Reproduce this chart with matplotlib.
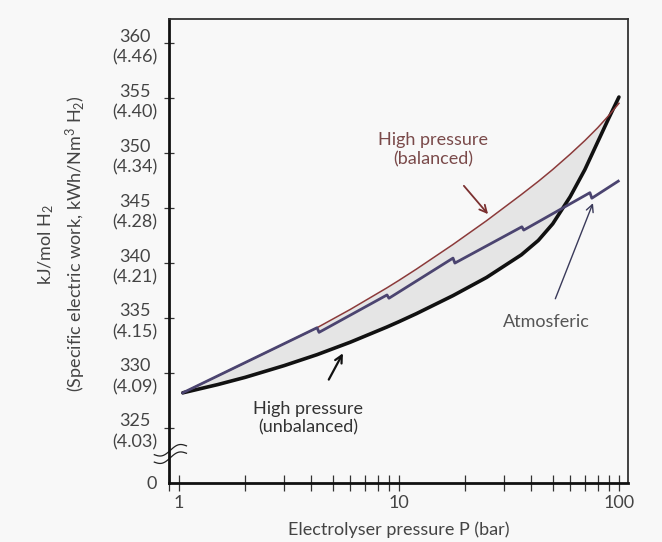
import matplotlib
matplotlib.use("Agg")
import matplotlib.pyplot as plt
import numpy as np

plt.rcParams['font.family'] = ['Lato', 'DejaVu Sans']
plt.rcParams['mathtext.fontset'] = 'custom'
plt.rcParams['mathtext.rm'] = 'Lato'
plt.rcParams['mathtext.it'] = 'Lato:italic'

# pressure grid shared by the two high pressure curves (bar)
p_grid = [1.04, 1.5, 2, 3, 4.24, 6, 8.8, 10, 12, 17.6, 25, 36, 43, 50, 60, 70, 80, 90, 100]
balanced = [328.2, 329.74, 330.95, 332.66, 334.12, 335.78, 337.74, 338.43, 339.45, 341.69,
            343.85, 346.23, 347.43, 348.51, 349.9, 351.14, 352.3, 353.43, 354.53]
unbalanced = [328.2, 328.95, 329.61, 330.67, 331.67, 332.8, 334.18, 334.67, 335.4, 337.04,
              338.69, 340.75, 342.06, 343.57, 346.03, 348.5, 351.0, 353.2, 355.1]

# atmospheric electrolyser + compressor stages (saw-tooth)
atm_p = [1.04, 4.24, 4.33, 8.82, 9.0, 17.6, 17.95, 36.2, 36.9, 73.8, 75.3, 99.3]
atm_v = [328.2, 334.12, 333.7, 337.1, 336.8, 340.45, 340.0, 343.3, 343.0, 346.4, 345.9, 347.45]

ytick_vals = [320, 325, 330, 335, 340, 345, 350, 355, 360]
ytick_labels = ['0', '325\n(4.03)', '330\n(4.09)', '335\n(4.15)', '340\n(4.21)',
                '345\n(4.28)', '350\n(4.34)', '355\n(4.40)', '360\n(4.46)']

bg = '#f8f8f8'
fig = plt.figure(figsize=(6.62, 5.42), dpi=100, facecolor=bg)
ax = fig.add_axes([0.2553, 0.1089, 0.6934, 0.8561], facecolor=bg)

ax.fill_between(p_grid, balanced, unbalanced, color='#e5e5e5', lw=0)
ax.plot(p_grid, unbalanced, color='#111111', lw=2.6, solid_capstyle='round')
ax.plot(p_grid, balanced, color='#8b3a3a', lw=1.1)
ax.plot(atm_p, atm_v, color='#4b4470', lw=2.0)

ax.set_xscale('log')
ax.set_xlim(0.90, 110)
ax.set_ylim(320, 362.2)

ax.set_yticks(ytick_vals)
ax.set_yticklabels(ytick_labels)
for t in ax.get_yticklabels():
    t.set_multialignment('center')
    t.set_linespacing(1.35)
ax.yaxis.get_major_ticks()[0].tick1line.set_visible(False)

ax.set_xticks([1, 10, 100])
ax.set_xticklabels(['1', '10', '100'])
ax.tick_params(axis='both', which='both', direction='inout', colors='#333333',
               labelcolor='#444444', labelsize=13)
ax.tick_params(axis='y', length=7, width=0.9, pad=5)
ax.tick_params(axis='x', which='both', length=11, width=0.9, pad=3)

for side in ['left', 'bottom']:
    ax.spines[side].set_linewidth(2.0)
    ax.spines[side].set_color('#111111')
for side in ['top', 'right']:
    ax.spines[side].set_linewidth(1.3)
    ax.spines[side].set_color('#333333')

ax.set_xlabel('Electrolyser pressure P (bar)', fontsize=13, color='#444444', labelpad=8)
ax.set_ylabel('kJ/mol H$_2$\n(Specific electric work, kWh/Nm$^3$ H$_2$)',
              fontsize=13, color='#444444', linespacing=1.45)
ax.yaxis.set_label_coords(-0.176, 0.515)

# axis break marks
t = np.linspace(0, 1, 40)
bx = -0.032 + 0.070 * t
for y0 in [0.045, 0.061]:
    by = y0 + 0.019 * t - 0.007 * np.sin(2 * np.pi * t)
    ax.plot(bx, by, transform=ax.transAxes, color='#222222', lw=0.9, clip_on=False)

ax.annotate('High pressure\n(unbalanced)', xy=(5.56, 331.8), xytext=(3.86, 325.9),
            ha='center', va='center', fontsize=13, color='#333333',
            arrowprops=dict(arrowstyle='->', color='#111111', lw=1.6,
                            shrinkA=15, shrinkB=0))
ax.annotate('High pressure\n(balanced)', xy=(25.4, 344.45), xytext=(14.3, 350.3),
            ha='center', va='center', fontsize=13, color='#7a4a4a',
            arrowprops=dict(arrowstyle='->', color='#7b3030', lw=1.3,
                            shrinkA=15, shrinkB=0))
ax.annotate('Atmosferic', xy=(76.2, 345.45), xytext=(46.6, 334.6),
            ha='center', va='center', fontsize=13, color='#555555',
            arrowprops=dict(arrowstyle='->', color='#3a3a5a', lw=1.0,
                            shrinkA=10, shrinkB=0))

fig.savefig('out.png', dpi=100, facecolor=bg)
